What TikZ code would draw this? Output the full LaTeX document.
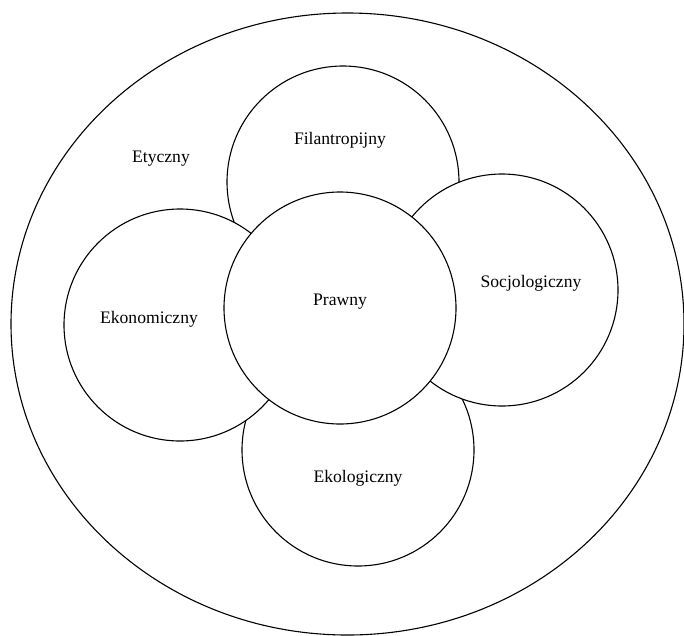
\documentclass[tikz,border=0pt]{standalone}
\usepackage{fontspec}
\setmainfont{Liberation Serif}
\newfontfamily\lblfont{Liberation Serif}
\begin{document}
\begin{tikzpicture}[x=1pt,y=-1pt,
  ring/.style={circle,draw=black,fill=white,line width=1.1pt,minimum size=232pt,inner sep=0pt},
  lbl/.style={anchor=base,inner sep=0pt,font=\lblfont\fontsize{17.6}{20}\selectfont}]
\useasboundingbox (0,0) rectangle (684,635);
\draw[line width=1.1pt] (347.5,324) ellipse [x radius=336.5, y radius=311];
\node[ring] (fil) at (343,182) {};
\node[ring] (ekol) at (358,450) {};
\node[ring] (ekon) at (180,325) {};
\node[ring] (soc) at (502,290) {};
\node[ring] (praw) at (340,308) {};
\node[lbl] (tety) at (161,162) {Etyczny};
\node[lbl] (tfil) at (340,144) {Filantropijny};
\node[lbl] (tekon) at (149,323) {Ekonomiczny};
\node[lbl] (tsoc) at (531,287) {Socjologiczny};
\node[lbl] (tpraw) at (340,305) {Prawny};
\node[lbl] (tekol) at (358,482) {Ekologiczny};
\end{tikzpicture}
\end{document}
